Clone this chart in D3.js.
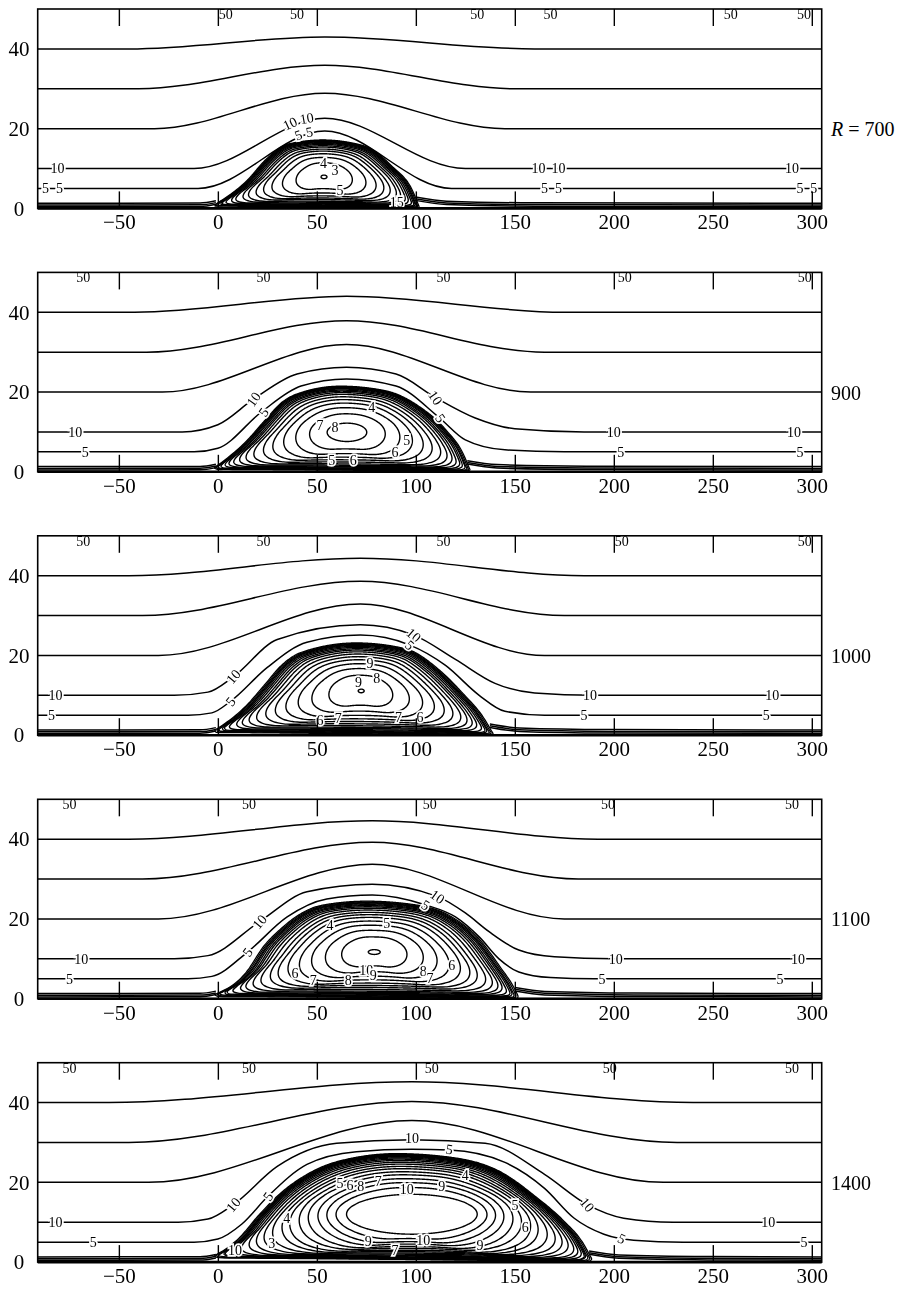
<!DOCTYPE html>
<html><head><meta charset="utf-8">
<script src="https://cdn.jsdelivr.net/npm/d3@7"></script>
<style>body{margin:0;background:#fff}svg{display:block}</style>
</head><body>
<svg id="chart" width="903" height="1290"></svg>
<script>
// ---------------- data ----------------
const reynolds = ["700", "900", "1000", "1100", "1400"];
const xTicks = [-50, 0, 50, 100, 150, 200, 250, 300];
const yTicks = [0, 20, 40];
const xDomain = [-91, 305];
const yDomain = [0, 50];
const wallLevels = [0.45, 0.85, 1.3];

// far-field streamlines: [upstream height, control points]
const stream700 = [
  [40, [[-45,40],[54,43.0],[160,40]]],
  [30, [[-40,30],[54,35.9],[150,30]]],
  [20, [[-32,20],[54,28.9],[145,20]]],
  [10, [[-12,10],[54,22.6],[125,10]]],
  [5,  [[-10,5],[54,19.4],[118,5]]]
];
const stream900 = [
  [40, [[-42,40],[65,44.0],[175,40]]],
  [30, [[-36,30],[65,37.9],[165,30]]],
  [20, [[-28,20],[65,31.9],[158,20]]],
  [10, [[-18,10],[0,11.8],[18,18.2],[40,24.5],[65,26.2],[90,24.5],[110,18.6],[130,13.5],[150,10.8],[185,10]]],
  [5,  [[-12,5],[0,5.9],[22,15],[42,21.5],[65,23.3],[90,21.5],[112,13.5],[125,8],[145,5.5],[175,5]]]
];
const stream1000 = [
  [40, [[-45,40],[72,44.4],[185,40]]],
  [30, [[-38,30],[72,38.6],[175,30]]],
  [20, [[-30,20],[72,32.9],[165,20]]],
  [10, [[-22,10],[-5,10.8],[8,14.7],[30,24],[72,27.7],[99,25.1],[120,19],[140,13],[160,10.6],[190,10]]],
  [5,  [[-15,5],[-3,5.6],[6.4,8.5],[25,17],[45,23.3],[72,25.1],[97,22.6],[115,17.5],[132,10],[145,6],[165,5]]]
];
const stream1100 = [
  [40, [[-45,40],[78,44.6],[192,40]]],
  [30, [[-38,30],[78,39.2],[182,30]]],
  [20, [[-30,20],[78,33.7],[175,20]]],
  [10, [[-22,10],[-5,10.8],[21,19.3],[45,26.8],[78,28.7],[111,25.6],[125,21.5],[137,16.8],[152,12.2],[170,10.5],[200,10]]],
  [5,  [[-15,5],[-3,5.6],[15,11.7],[35,20.5],[55,25],[78,26],[105,23.5],[120,20.5],[132,15.5],[142,10],[152,6.7],[168,5.3],[190,5]]]
];
const stream1400 = [
  [40, [[-55,40],[98,45.2],[240,40]]],
  [30, [[-45,30],[98,40.3],[232,30]]],
  [20, [[-35,20],[98,35.5],[225,20]]],
  [10, [[-20,10],[-5,10.8],[7.8,14.4],[30,24],[60,29.8],[98,30.7],[135,29.8],[165,22],[186.6,14.4],[205,11],[230,10]]],
  [5,  [[-12,5],[0,5.8],[12,9.5],[25.3,16.5],[45,24.5],[70,27.7],[98,28.3],[117,28.1],[145,25],[165,18.5],[180,11],[195,7],[210,5.5],[235,5]]]
];

// separation bubble outline (outer edge of the dense band), left foot -> right foot
const dome700  = [[-1,0.8],[16,7.1],[25,12.1],[36,15.9],[53,16.9],[73,15.5],[87,10.5],[97,4.6],[100.5,0.4]];
const dome900  = [[-1,0.85],[16,7.95],[25,13],[33,17.2],[43,19.7],[62,21.2],[84,20.1],[100.6,16.3],[114,10.5],[122.5,4.6],[126,0.4]];
const dome1000 = [[-1,1.0],[16,7.5],[25,12.6],[33,17.2],[43,20.5],[70,22.8],[94,21.4],[110.5,16.3],[122.3,10.5],[132.4,4.6],[137.4,0.4]];
const dome1100 = [[-1,0.9],[16.2,6.8],[24.7,13.1],[33,17.3],[41.5,20.6],[53.3,23.1],[75.2,24.1],[100.5,23.1],[117.3,20.2],[130.8,14.7],[140.9,8.0],[147.6,3.0],[150.1,0.4]];
const dome1400 = [[-1,1.3],[12.9,6.4],[21.3,11.4],[33,17.3],[44.9,21.5],[60,24.8],[90.3,26.9],[117.3,26],[142.5,22.3],[159.4,16.4],[172.9,10.6],[183,4.7],[187.5,0.4]];

// vortex centre [x, y] and innermost closed contour half axes [ax, ay]
const vortex700  = [53.6, 7.9, 1.5, 0.45];
const vortex900  = [65.2, 9.9, 10, 2.3];
const vortex1000 = [72.4, 11.1, 1.5, 0.45];
const vortex1100 = [79, 11.7, 3, 0.6];
const vortex1400 = [98, 12, 33, 5];

// relative position of each closed contour between innermost contour (0) and bubble edge (1)
const levels700  = [0,0.35,0.51,0.62,0.70,0.76,0.82,0.86,0.9,0.93,0.955,0.975,0.99,1.0,1.015,1.03];
const levels900  = [0,0.25,0.42,0.55,0.65,0.73,0.8,0.85,0.89,0.92,0.95,0.97,0.99,1.0,1.015,1.03];
const levels1000 = [0,0.3,0.45,0.56,0.65,0.72,0.78,0.83,0.87,0.9,0.93,0.955,0.975,0.99,1.0,1.015,1.03];
const levels1100 = [0,0.26,0.4,0.51,0.6,0.68,0.74,0.79,0.84,0.88,0.91,0.935,0.955,0.975,0.99,1.0,1.015,1.03];
const levels1400 = [0,0.16,0.28,0.38,0.48,0.56,0.64,0.7,0.76,0.81,0.855,0.89,0.92,0.945,0.965,0.98,0.99,1.0,1.015,1.03];

// contour labels [x, y, text, rotation]
const labels700 = [
  [-81,10,"10",0],[-87,5,"5",0],[-80,5,"5",0],
  [162,10,"10",0],[172,10,"10",0],[290,10,"10",0],
  [165,5,"5",0],[172,5,"5",0],[294,5,"5",0],[301,5,"5",0],
  [36.4,21.3,"10",-25],[44.9,22.6,"10",-10],[40.6,18.4,"5",-20],[46.2,19.2,"5",-10],
  [53.3,11.4,"4",0],[59.2,9.6,"3",0],[61.7,4.6,"5",0],[90.3,1.7,"15",0]
];
const labels900 = [
  [-72,10,"10",0],[-67,5,"5",0],[200,10,"10",0],[291,10,"10",0],[203.5,5,"5",0],[294,5,"5",0],
  [18,18.2,"10",-55],[23,15,"5",-55],[110,18.6,"10",55],[112.5,13.5,"5",55],
  [51.6,11.7,"7",0],[59.2,11.3,"8",0],[77.7,16.3,"4",0],[95.4,8,"5",0],[89.5,5,"6",0],[68.4,2.9,"6",0],[57.5,2.9,"5",0]
];
const labels1000 = [
  [-82,10,"10",0],[-84,5,"5",0],[188,10,"10",0],[280,10,"10",0],[185,5,"5",0],[277,5,"5",0],
  [7.8,14.7,"10",-50],[6.4,8.5,"5",-50],[99,25.1,"10",40],[97,22.6,"5",40],
  [71,13.4,"9",0],[80.2,14.2,"8",0],[76.9,18,"9",0],[51.6,3.8,"6",0],[60.8,4.2,"7",0],[91.2,4.6,"7",0],[102.1,4.6,"6",0]
];
const labels1100 = [
  [-69,10,"10",0],[-75,5,"5",0],[201,10,"10",0],[293,10,"10",0],[194,5,"5",0],[284,5,"5",0],
  [21,19.3,"10",-50],[15,11.7,"5",-55],[111,25.6,"10",35],[105,23.5,"5",30],
  [75,7.2,"10",0],[78.5,5.9,"9",0],[65.9,4.7,"8",0],[48.2,4.7,"7",0],[39,6.3,"6",0],
  [103.8,6.8,"8",0],[107.2,5.1,"7",0],[118.1,8.4,"6",0],[85.3,18.9,"5",0],[56.6,18.5,"4",0]
];
const labels1400 = [
  [-82,10,"10",0],[-63,5,"5",0],[278,10,"10",0],[296,5,"5",0],
  [186.6,14.4,"10",50],[204,5.9,"5",25],[98,31.1,"10",0],[117,28.3,"5",8],
  [7.8,14.4,"10",-50],[25.3,16.5,"5",-55],
  [95.4,18.3,"10",0],[113.1,19,"9",0],[72.2,19,"8",0],[81,20.2,"7",0],[66.7,19.4,"6",0],[61.7,19.8,"5",0],
  [124.9,21.7,"4",0],[150.1,14.4,"5",0],[155.2,8.9,"6",0],[76,5.2,"9",0],[103.8,5.6,"10",0],
  [132.4,4.3,"9",0],[89.5,3.1,"7",0],[34.8,11,"4",0],[27.2,4.8,"3",0],[8.6,3.1,"10",0]
];
// x positions of the "50" labels on the upper boundary
const top700  = [4, 40, 131, 168, 259, 296];
const top900  = [-68, 23, 114, 205.5, 296.5];
const top1000 = [-68, 23, 114, 204, 296.5];
const top1100 = [-75, 15.7, 107, 197, 290];
const top1400 = [-75, 15.7, 108, 198, 290];

const panels = [
  {R: reynolds[0], stream: stream700,  dome: dome700,  vortex: vortex700,  levels: levels700,  labels: labels700,  top: top700},
  {R: reynolds[1], stream: stream900,  dome: dome900,  vortex: vortex900,  levels: levels900,  labels: labels900,  top: top900},
  {R: reynolds[2], stream: stream1000, dome: dome1000, vortex: vortex1000, levels: levels1000, labels: labels1000, top: top1000},
  {R: reynolds[3], stream: stream1100, dome: dome1100, vortex: vortex1100, levels: levels1100, labels: labels1100, top: top1100},
  {R: reynolds[4], stream: stream1400, dome: dome1400, vortex: vortex1400, levels: levels1400, labels: labels1400, top: top1400}
];

// ---------------- layout ----------------
const plotLeft = 37.7, plotRight = 821.7, panelH = 199.4;
const panelTops = [9, 272.4, 535.8, 799.3, 1062.7];
const FONT = "'Liberation Serif','Times New Roman',serif";

const svg = d3.select("#chart");
const x = d3.scaleLinear().domain(xDomain).range([plotLeft, plotRight]);
const defs = svg.append("defs");

function fmt(d){ return d < 0 ? "\u2212" + Math.abs(d) : String(d); }
function cross(ax, ay, bx, by) { return ax * by - ay * bx; }

panels.forEach((p, i) => {
  const top = panelTops[i], bottom = top + panelH;
  const y = d3.scaleLinear().domain(yDomain).range([bottom, top]);
  const g = svg.append("g");

  defs.append("clipPath").attr("id", "clip" + i)
    .append("rect").attr("x", plotLeft).attr("y", top)
    .attr("width", plotRight - plotLeft).attr("height", panelH);

  const lines = g.append("g").attr("clip-path", `url(#clip${i})`)
    .attr("fill", "none").attr("stroke", "#000").attr("stroke-width", 1.5);

  const mline = d3.line().x(d => x(d[0])).y(d => y(d[1])).curve(d3.curveMonotoneX);

  // far-field streamlines
  p.stream.forEach(([y0, pts]) => {
    const data = [[xDomain[0], y0], ...pts, [xDomain[1], y0]];
    lines.append("path").attr("d", mline(data));
  });

  // near-wall streamlines
  const xs = p.dome[0][0], xe = p.dome[p.dome.length - 1][0];
  wallLevels.forEach(w => {
    lines.append("path").attr("d", mline([[xDomain[0], w], [xs - 8, w + 0.05], [xs, w + 0.6]]));
    lines.append("path").attr("d", mline([[xe, w + 1.5], [xe + 15, w + 0.5], [xe + 60, w + 0.1], [xDomain[1], w]]));
  });

  // recirculation bubble: outline polygon (curved top + wall)
  const tmp = lines.append("path").attr("d", mline(p.dome));
  const node = tmp.node(), L = node.getTotalLength();
  const ring = [];
  const n1 = 300;
  for (let k = 0; k <= n1; k++) { const q = node.getPointAtLength(L * k / n1); ring.push([q.x, q.y]); }
  tmp.remove();
  const cx = x(p.vortex[0]), cy = y(p.vortex[1]);
  const ax = x(p.vortex[0] + p.vortex[2]) - cx, ay = cy - y(p.vortex[1] + p.vortex[3]);

  // outline radius as a function of angle around the vortex centre
  const M = 360;
  const ang = d3.range(M).map(k => -Math.PI + 2 * Math.PI * k / M);
  const rB = ang.map(th => {
    const dx = Math.cos(th), dy = Math.sin(th);
    let best = Infinity;
    for (let j = 0; j < ring.length; j++) {
      const P = ring[j], Q = ring[(j + 1) % ring.length];
      const ex = Q[0] - P[0], ey = Q[1] - P[1];
      const den = cross(dx, dy, ex, ey);
      if (Math.abs(den) < 1e-9) continue;
      const wx = P[0] - cx, wy = P[1] - cy;
      const t = cross(wx, wy, ex, ey) / den;
      const u = cross(wx, wy, dx, dy) / den;
      if (t > 0 && u >= 0 && u <= 1 && t < best) best = t;
    }
    return best;
  });
  const rE = ang.map(th => 1 / Math.hypot(Math.cos(th) / ax, Math.sin(th) / ay));
  function smooth(h) {
    if (h < 1) return rB.slice();
    return rB.map((_, k) => {
      let s = 0, ws = 0;
      for (let j = -h; j <= h; j++) {
        const w = 1 - Math.abs(j) / (h + 1);
        s += w * rB[(k + j + M) % M]; ws += w;
      }
      return s / ws;
    });
  }
  const closed = d3.line().curve(d3.curveCardinalClosed.tension(0.3));
  p.levels.forEach(t => {
    const h = Math.round(Math.max(0, 1 - t) * 55);
    const rs = smooth(h);
    const pts = ang.map((th, k) => {
      const rr = rE[k] + t * (rs[k] - rE[k]);
      return [cx + rr * Math.cos(th), cy + rr * Math.sin(th)];
    });
    lines.append("path").attr("d", closed(pts)).attr("stroke-width", t >= 0.97 ? 1.3 : 1.4);
  });

  // contour labels
  const lab = g.append("g").attr("font-family", FONT).attr("font-size", 14)
    .attr("text-anchor", "middle").style("opacity", 0.99);
  p.labels.forEach(([lx, ly, txt, rot]) => {
    const tr = `translate(${x(lx)},${y(ly)}) rotate(${rot})`;
    lab.append("text").attr("transform", tr).attr("dy", "0.35em")
      .attr("fill", "#fff").attr("stroke", "#fff").attr("stroke-width", 3.5).text(txt);
    lab.append("text").attr("transform", tr).attr("dy", "0.35em")
      .attr("fill", "#000").text(txt);
  });
  p.top.forEach(tx => {
    lab.append("text").attr("x", x(tx)).attr("y", top + 10)
      .attr("fill", "#000").text("50");
  });

  // frame
  g.append("rect").attr("x", plotLeft).attr("y", top)
    .attr("width", plotRight - plotLeft).attr("height", panelH)
    .attr("fill", "none").attr("stroke", "#000").attr("stroke-width", 1.6);
  g.append("line").attr("x1", plotLeft).attr("x2", plotRight)
    .attr("y1", bottom).attr("y2", bottom).attr("stroke", "#000").attr("stroke-width", 2.6);

  // inward ticks
  const tTop = g.append("g").attr("transform", `translate(0,${top})`)
    .call(d3.axisBottom(x).tickValues(xTicks).tickSize(17).tickFormat(""));
  const tBot = g.append("g").attr("transform", `translate(0,${bottom})`)
    .call(d3.axisTop(x).tickValues(xTicks).tickSize(17).tickFormat(""));
  [tTop, tBot].forEach(t => { t.select(".domain").remove(); t.selectAll("line").attr("stroke-width", 1.4); });

  // tick labels
  const xl = g.append("g").attr("transform", `translate(0,${bottom})`)
    .call(d3.axisBottom(x).tickValues(xTicks).tickSize(0).tickPadding(6).tickFormat(fmt));
  xl.select(".domain").remove();
  xl.selectAll("text").attr("font-family", FONT).attr("font-size", 21).attr("fill", "#000");

  const yl = g.append("g").attr("transform", `translate(${plotLeft},0)`)
    .call(d3.axisLeft(y).tickValues(yTicks).tickSize(0).tickFormat(d => d));
  yl.select(".domain").remove();
  yl.selectAll("text").attr("font-family", FONT).attr("font-size", 21).attr("fill", "#000")
    .attr("x", 19 - plotLeft).attr("text-anchor", "middle");

  // Reynolds number label
  const rt = g.append("text").attr("x", 831).attr("y", y(20) + 7.5)
    .attr("font-family", FONT).attr("font-size", 20).attr("fill", "#000");
  if (i === 0) {
    rt.append("tspan").attr("font-style", "italic").text("R");
    rt.append("tspan").text(" = " + p.R);
  } else {
    rt.text(p.R);
  }
});
</script>
</body></html>
